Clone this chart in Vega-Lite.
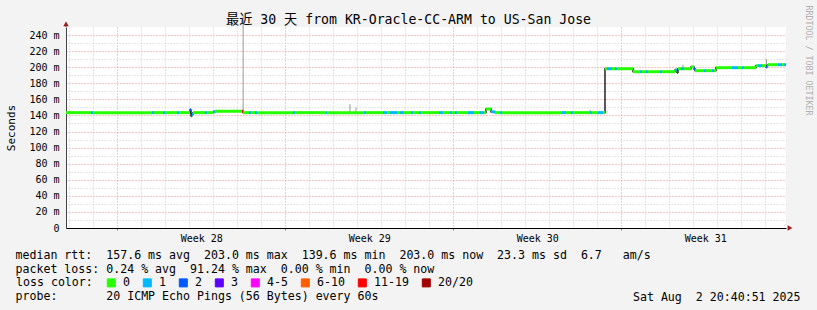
{
  "$schema": "https://vega.github.io/schema/vega-lite/v6.json",
  "width": 720,
  "height": 201,
  "autosize": "none",
  "padding": {"left": 66, "top": 27, "right": 31, "bottom": 82},
  "background": "#f3f3f3",
  "title": {"text": "最近 30 天 from KR-Oracle-CC-ARM to US-San Jose", "font": "DejaVu Sans Mono, Noto Sans CJK SC", "fontSize": 13.2, "fontWeight": "normal", "color": "#000", "anchor": "middle", "dx": -17.5, "offset": -32.5, "baseline": "alphabetic"},
  "datasets": {
    "median": [
      {"t": "2025-07-03T20:40:00Z", "t2": "2025-07-04T21:40:00Z", "v": 143.5, "loss": "0"},
      {"t": "2025-07-04T21:40:00Z", "t2": "2025-07-04T23:40:00Z", "v": 143.5, "loss": "1"},
      {"t": "2025-07-04T23:40:00Z", "t2": "2025-07-07T10:40:00Z", "v": 143.5, "loss": "0"},
      {"t": "2025-07-07T10:40:00Z", "t2": "2025-07-07T12:40:00Z", "v": 143.5, "loss": "1"},
      {"t": "2025-07-07T12:40:00Z", "t2": "2025-07-07T21:40:00Z", "v": 143.5, "loss": "0"},
      {"t": "2025-07-07T21:40:00Z", "t2": "2025-07-07T23:40:00Z", "v": 143.5, "loss": "1"},
      {"t": "2025-07-07T23:40:00Z", "t2": "2025-07-08T11:40:00Z", "v": 143.5, "loss": "0"},
      {"t": "2025-07-08T11:40:00Z", "t2": "2025-07-08T13:40:00Z", "v": 143.5, "loss": "1"},
      {"t": "2025-07-08T13:40:00Z", "t2": "2025-07-09T00:40:00Z", "v": 143.5, "loss": "0"},
      {"t": "2025-07-09T00:40:00Z", "t2": "2025-07-09T01:40:00Z", "v": 147.0, "loss": "2"},
      {"t": "2025-07-09T01:40:00Z", "t2": "2025-07-09T02:40:00Z", "v": 139.6, "loss": "2"},
      {"t": "2025-07-09T02:40:00Z", "t2": "2025-07-09T03:40:00Z", "v": 141.5, "loss": "1"},
      {"t": "2025-07-09T03:40:00Z", "t2": "2025-07-09T15:40:00Z", "v": 143.5, "loss": "0"},
      {"t": "2025-07-09T15:40:00Z", "t2": "2025-07-09T17:40:00Z", "v": 143.5, "loss": "1"},
      {"t": "2025-07-09T17:40:00Z", "t2": "2025-07-09T23:40:00Z", "v": 143.5, "loss": "0"},
      {"t": "2025-07-09T23:40:00Z", "t2": "2025-07-10T01:40:00Z", "v": 144.5, "loss": "1"},
      {"t": "2025-07-10T01:40:00Z", "t2": "2025-07-11T04:40:00Z", "v": 145.2, "loss": "0"},
      {"t": "2025-07-11T04:40:00Z", "t2": "2025-07-11T05:40:00Z", "v": 145.2, "loss": "11-19"},
      {"t": "2025-07-11T05:40:00Z", "t2": "2025-07-11T11:40:00Z", "v": 143.5, "loss": "0"},
      {"t": "2025-07-11T11:40:00Z", "t2": "2025-07-11T13:40:00Z", "v": 143.5, "loss": "1"},
      {"t": "2025-07-11T13:40:00Z", "t2": "2025-07-11T17:40:00Z", "v": 143.5, "loss": "0"},
      {"t": "2025-07-11T17:40:00Z", "t2": "2025-07-11T19:40:00Z", "v": 143.5, "loss": "1"},
      {"t": "2025-07-11T19:40:00Z", "t2": "2025-07-13T07:40:00Z", "v": 143.5, "loss": "0"},
      {"t": "2025-07-13T07:40:00Z", "t2": "2025-07-13T09:40:00Z", "v": 143.5, "loss": "1"},
      {"t": "2025-07-13T09:40:00Z", "t2": "2025-07-14T16:40:00Z", "v": 143.5, "loss": "0"},
      {"t": "2025-07-14T16:40:00Z", "t2": "2025-07-14T17:40:00Z", "v": 143.5, "loss": "1"},
      {"t": "2025-07-14T17:40:00Z", "t2": "2025-07-16T06:40:00Z", "v": 143.5, "loss": "0"},
      {"t": "2025-07-16T06:40:00Z", "t2": "2025-07-16T08:40:00Z", "v": 143.5, "loss": "1"},
      {"t": "2025-07-16T08:40:00Z", "t2": "2025-07-17T01:40:00Z", "v": 143.5, "loss": "0"},
      {"t": "2025-07-17T01:40:00Z", "t2": "2025-07-17T05:40:00Z", "v": 143.5, "loss": "1"},
      {"t": "2025-07-17T05:40:00Z", "t2": "2025-07-17T08:40:00Z", "v": 143.5, "loss": "0"},
      {"t": "2025-07-17T08:40:00Z", "t2": "2025-07-17T15:40:00Z", "v": 143.5, "loss": "1"},
      {"t": "2025-07-17T15:40:00Z", "t2": "2025-07-17T18:40:00Z", "v": 143.5, "loss": "0"},
      {"t": "2025-07-17T18:40:00Z", "t2": "2025-07-17T22:40:00Z", "v": 143.5, "loss": "1"},
      {"t": "2025-07-17T22:40:00Z", "t2": "2025-07-18T05:40:00Z", "v": 143.5, "loss": "0"},
      {"t": "2025-07-18T05:40:00Z", "t2": "2025-07-18T07:40:00Z", "v": 143.5, "loss": "1"},
      {"t": "2025-07-18T07:40:00Z", "t2": "2025-07-18T13:40:00Z", "v": 143.5, "loss": "0"},
      {"t": "2025-07-18T13:40:00Z", "t2": "2025-07-18T15:40:00Z", "v": 143.5, "loss": "1"},
      {"t": "2025-07-18T15:40:00Z", "t2": "2025-07-19T09:40:00Z", "v": 143.5, "loss": "0"},
      {"t": "2025-07-19T09:40:00Z", "t2": "2025-07-19T13:40:00Z", "v": 143.5, "loss": "1"},
      {"t": "2025-07-19T13:40:00Z", "t2": "2025-07-19T20:40:00Z", "v": 143.5, "loss": "0"},
      {"t": "2025-07-19T20:40:00Z", "t2": "2025-07-19T22:40:00Z", "v": 143.5, "loss": "1"},
      {"t": "2025-07-19T22:40:00Z", "t2": "2025-07-20T01:40:00Z", "v": 143.5, "loss": "0"},
      {"t": "2025-07-20T01:40:00Z", "t2": "2025-07-20T03:40:00Z", "v": 143.5, "loss": "1"},
      {"t": "2025-07-20T03:40:00Z", "t2": "2025-07-20T14:40:00Z", "v": 143.5, "loss": "0"},
      {"t": "2025-07-20T14:40:00Z", "t2": "2025-07-20T20:40:00Z", "v": 143.5, "loss": "1"},
      {"t": "2025-07-20T20:40:00Z", "t2": "2025-07-21T02:40:00Z", "v": 143.5, "loss": "0"},
      {"t": "2025-07-21T02:40:00Z", "t2": "2025-07-21T06:40:00Z", "v": 143.5, "loss": "1"},
      {"t": "2025-07-21T06:40:00Z", "t2": "2025-07-21T08:40:00Z", "v": 143.5, "loss": "0"},
      {"t": "2025-07-21T08:40:00Z", "t2": "2025-07-21T13:40:00Z", "v": 148.0, "loss": "0"},
      {"t": "2025-07-21T13:40:00Z", "t2": "2025-07-21T17:40:00Z", "v": 144.5, "loss": "1"},
      {"t": "2025-07-21T17:40:00Z", "t2": "2025-07-21T22:40:00Z", "v": 143.5, "loss": "0"},
      {"t": "2025-07-21T22:40:00Z", "t2": "2025-07-22T00:40:00Z", "v": 143.5, "loss": "1"},
      {"t": "2025-07-22T00:40:00Z", "t2": "2025-07-24T12:40:00Z", "v": 143.5, "loss": "0"},
      {"t": "2025-07-24T12:40:00Z", "t2": "2025-07-24T16:40:00Z", "v": 143.5, "loss": "1"},
      {"t": "2025-07-24T16:40:00Z", "t2": "2025-07-24T21:40:00Z", "v": 143.5, "loss": "0"},
      {"t": "2025-07-24T21:40:00Z", "t2": "2025-07-24T23:40:00Z", "v": 143.5, "loss": "1"},
      {"t": "2025-07-24T23:40:00Z", "t2": "2025-07-25T16:40:00Z", "v": 143.5, "loss": "0"},
      {"t": "2025-07-25T16:40:00Z", "t2": "2025-07-25T18:40:00Z", "v": 143.5, "loss": "1"},
      {"t": "2025-07-25T18:40:00Z", "t2": "2025-07-26T00:40:00Z", "v": 143.5, "loss": "0"},
      {"t": "2025-07-26T00:40:00Z", "t2": "2025-07-26T05:40:00Z", "v": 143.5, "loss": "1"},
      {"t": "2025-07-26T05:40:00Z", "t2": "2025-07-26T07:40:00Z", "v": 143.5, "loss": "0"},
      {"t": "2025-07-26T07:40:00Z", "t2": "2025-07-26T09:40:00Z", "v": 198.1, "loss": "0"},
      {"t": "2025-07-26T09:40:00Z", "t2": "2025-07-26T14:40:00Z", "v": 198.1, "loss": "1"},
      {"t": "2025-07-26T14:40:00Z", "t2": "2025-07-26T17:40:00Z", "v": 198.1, "loss": "0"},
      {"t": "2025-07-26T17:40:00Z", "t2": "2025-07-26T19:40:00Z", "v": 198.1, "loss": "1"},
      {"t": "2025-07-26T19:40:00Z", "t2": "2025-07-27T11:40:00Z", "v": 198.1, "loss": "0"},
      {"t": "2025-07-27T11:40:00Z", "t2": "2025-07-27T18:40:00Z", "v": 194.4, "loss": "0"},
      {"t": "2025-07-27T18:40:00Z", "t2": "2025-07-27T20:40:00Z", "v": 194.4, "loss": "1"},
      {"t": "2025-07-27T20:40:00Z", "t2": "2025-07-28T00:40:00Z", "v": 194.4, "loss": "0"},
      {"t": "2025-07-28T00:40:00Z", "t2": "2025-07-28T02:40:00Z", "v": 194.4, "loss": "1"},
      {"t": "2025-07-28T02:40:00Z", "t2": "2025-07-28T14:40:00Z", "v": 194.4, "loss": "0"},
      {"t": "2025-07-28T14:40:00Z", "t2": "2025-07-28T16:40:00Z", "v": 194.4, "loss": "1"},
      {"t": "2025-07-28T16:40:00Z", "t2": "2025-07-29T05:40:00Z", "v": 194.4, "loss": "0"},
      {"t": "2025-07-29T05:40:00Z", "t2": "2025-07-29T07:40:00Z", "v": 196.5, "loss": "1"},
      {"t": "2025-07-29T07:40:00Z", "t2": "2025-07-29T08:40:00Z", "v": 193.5, "loss": "2"},
      {"t": "2025-07-29T08:40:00Z", "t2": "2025-07-29T11:40:00Z", "v": 198.1, "loss": "0"},
      {"t": "2025-07-29T11:40:00Z", "t2": "2025-07-29T14:40:00Z", "v": 198.1, "loss": "1"},
      {"t": "2025-07-29T14:40:00Z", "t2": "2025-07-29T21:40:00Z", "v": 198.1, "loss": "0"},
      {"t": "2025-07-29T21:40:00Z", "t2": "2025-07-30T00:40:00Z", "v": 200.5, "loss": "0"},
      {"t": "2025-07-30T00:40:00Z", "t2": "2025-07-30T01:40:00Z", "v": 198.1, "loss": "2"},
      {"t": "2025-07-30T01:40:00Z", "t2": "2025-07-30T10:40:00Z", "v": 195.7, "loss": "0"},
      {"t": "2025-07-30T10:40:00Z", "t2": "2025-07-30T12:40:00Z", "v": 195.7, "loss": "1"},
      {"t": "2025-07-30T12:40:00Z", "t2": "2025-07-30T18:40:00Z", "v": 195.7, "loss": "0"},
      {"t": "2025-07-30T18:40:00Z", "t2": "2025-07-30T20:40:00Z", "v": 195.7, "loss": "1"},
      {"t": "2025-07-30T20:40:00Z", "t2": "2025-07-30T22:40:00Z", "v": 195.7, "loss": "0"},
      {"t": "2025-07-30T22:40:00Z", "t2": "2025-07-31T14:40:00Z", "v": 199.4, "loss": "0"},
      {"t": "2025-07-31T14:40:00Z", "t2": "2025-07-31T20:40:00Z", "v": 199.4, "loss": "1"},
      {"t": "2025-07-31T20:40:00Z", "t2": "2025-08-01T00:40:00Z", "v": 199.4, "loss": "0"},
      {"t": "2025-08-01T00:40:00Z", "t2": "2025-08-01T02:40:00Z", "v": 199.4, "loss": "1"},
      {"t": "2025-08-01T02:40:00Z", "t2": "2025-08-01T14:40:00Z", "v": 199.4, "loss": "0"},
      {"t": "2025-08-01T14:40:00Z", "t2": "2025-08-01T16:40:00Z", "v": 201.9, "loss": "0"},
      {"t": "2025-08-01T16:40:00Z", "t2": "2025-08-01T20:40:00Z", "v": 201.9, "loss": "1"},
      {"t": "2025-08-01T20:40:00Z", "t2": "2025-08-02T00:40:00Z", "v": 201.9, "loss": "0"},
      {"t": "2025-08-02T00:40:00Z", "t2": "2025-08-02T01:40:00Z", "v": 200.2, "loss": "2"},
      {"t": "2025-08-02T01:40:00Z", "t2": "2025-08-02T02:40:00Z", "v": 201.9, "loss": "1"},
      {"t": "2025-08-02T02:40:00Z", "t2": "2025-08-02T12:40:00Z", "v": 203.1, "loss": "0"},
      {"t": "2025-08-02T12:40:00Z", "t2": "2025-08-02T16:40:00Z", "v": 203.1, "loss": "1"},
      {"t": "2025-08-02T16:40:00Z", "t2": "2025-08-02T18:40:00Z", "v": 203.1, "loss": "0"},
      {"t": "2025-08-02T18:40:00Z", "t2": "2025-08-02T20:40:00Z", "v": 203.1, "loss": "1"}
    ],
    "smoke": [
      {"t": "2025-07-11T05:50:00Z", "lo": 145.2, "hi": 265},
      {"t": "2025-07-15T16:40:00Z", "lo": 144, "hi": 154},
      {"t": "2025-07-15T22:40:00Z", "lo": 144, "hi": 150},
      {"t": "2025-07-25T16:40:00Z", "lo": 144, "hi": 147},
      {"t": "2025-07-29T13:40:00Z", "lo": 198, "hi": 203},
      {"t": "2025-08-02T01:10:00Z", "lo": 202, "hi": 210}
    ]
  },
  "resolve": {"axis": {"x": "independent", "y": "independent"}},
  "layer": [
    {
      "data": {"name": "smoke"},
      "mark": {"type": "rule", "color": "#999999", "strokeWidth": 1},
      "encoding": {
        "x": {"field": "t", "type": "temporal",
          "scale": {"type": "utc", "nice": false, "domain": [{"year": 2025, "month": 7, "date": 3, "hours": 20, "minutes": 40, "seconds": 51, "utc": true}, {"year": 2025, "month": 8, "date": 2, "hours": 20, "minutes": 40, "seconds": 51, "utc": true}]},
          "axis": {"orient": "bottom", "grid": true, "gridColor": "#cccccc", "ticks": false, "labels": false, "domain": false,
            "values": [
              {"year": 2025, "month": 7, "date": 4, "utc": true}, {"year": 2025, "month": 7, "date": 5, "utc": true},
              {"year": 2025, "month": 7, "date": 7, "utc": true}, {"year": 2025, "month": 7, "date": 8, "utc": true},
              {"year": 2025, "month": 7, "date": 9, "utc": true}, {"year": 2025, "month": 7, "date": 10, "utc": true},
              {"year": 2025, "month": 7, "date": 11, "utc": true}, {"year": 2025, "month": 7, "date": 12, "utc": true},
              {"year": 2025, "month": 7, "date": 14, "utc": true}, {"year": 2025, "month": 7, "date": 15, "utc": true},
              {"year": 2025, "month": 7, "date": 16, "utc": true}, {"year": 2025, "month": 7, "date": 17, "utc": true},
              {"year": 2025, "month": 7, "date": 18, "utc": true}, {"year": 2025, "month": 7, "date": 19, "utc": true},
              {"year": 2025, "month": 7, "date": 21, "utc": true}, {"year": 2025, "month": 7, "date": 22, "utc": true},
              {"year": 2025, "month": 7, "date": 23, "utc": true}, {"year": 2025, "month": 7, "date": 24, "utc": true},
              {"year": 2025, "month": 7, "date": 25, "utc": true}, {"year": 2025, "month": 7, "date": 26, "utc": true},
              {"year": 2025, "month": 7, "date": 28, "utc": true}, {"year": 2025, "month": 7, "date": 29, "utc": true},
              {"year": 2025, "month": 7, "date": 30, "utc": true}, {"year": 2025, "month": 7, "date": 31, "utc": true},
              {"year": 2025, "month": 8, "date": 1, "utc": true}, {"year": 2025, "month": 8, "date": 2, "utc": true}
            ],
            "title": "Sat Aug\u00a0\u00a02 20:40:51 2025", "titleX": 734, "titleY": 72, "titleAlign": "right", "titleAnchor": "end", "titleBaseline": "alphabetic", "titleFontSize": 11.6}
        },
        "y": {"field": "lo", "type": "quantitative",
          "scale": {"domain": [0, 250], "nice": false, "zero": true},
          "axis": {"orient": "right", "grid": true, "gridColor": "#cccccc", "ticks": false, "labels": false, "domain": false,
            "values": [10, 30, 50, 70, 90, 110, 130, 150, 170, 190, 210, 230],
            "title": "RRDTOOL / TOBI OETIKER", "titleAngle": 90, "titleX": 19, "titleY": -22, "titleAlign": "left", "titleBaseline": "alphabetic", "titleFontSize": 8.3, "titleColor": "#b0b0b0"}
        },
        "y2": {"field": "hi"}
      }
    },
    {
      "data": {"name": "median"},
      "mark": {"type": "line", "interpolate": "step-after", "color": "#000000", "strokeWidth": 1.3},
      "encoding": {
        "x": {"field": "t", "type": "temporal",
          "axis": {"orient": "bottom", "grid": true, "gridColor": "#ee9090", "ticks": true, "tickColor": "#e06060", "tickSize": 2, "labels": false, "domain": false, "title": null,
            "values": [
              {"year": 2025, "month": 7, "date": 6, "utc": true}, {"year": 2025, "month": 7, "date": 13, "utc": true},
              {"year": 2025, "month": 7, "date": 20, "utc": true}, {"year": 2025, "month": 7, "date": 27, "utc": true}
            ]}
        },
        "y": {"field": "v", "type": "quantitative",
          "axis": {"orient": "left", "grid": true, "gridColor": "#ee9090", "ticks": false, "labelPadding": 7, "domain": true, "domainColor": "#444444",
            "values": [0, 20, 40, 60, 80, 100, 120, 140, 160, 180, 200, 220, 240],
            "labelExpr": "datum.value == 0 ? '0' : datum.value + ' m'",
            "title": "Seconds", "titleAngle": 270, "titleX": -52, "titleY": 100.5, "titleAlign": "center", "titleBaseline": "alphabetic", "titleFontSize": 11}
        }
      }
    },
    {
      "data": {"name": "median"},
      "mark": {"type": "rule", "strokeWidth": 3, "strokeCap": "butt"},
      "encoding": {
        "x": {"field": "t", "type": "temporal",
          "axis": {"orient": "bottom", "grid": false, "ticks": false, "domain": true, "domainColor": "#000000", "domainWidth": 1,
            "values": [
              {"year": 2025, "month": 7, "date": 9, "hours": 12, "utc": true}, {"year": 2025, "month": 7, "date": 16, "hours": 12, "utc": true},
              {"year": 2025, "month": 7, "date": 23, "hours": 12, "utc": true}, {"year": 2025, "month": 7, "date": 30, "hours": 12, "utc": true}
            ],
            "labelExpr": "'Week ' + utcFormat(datum.value, '%V')",
            "labelPadding": 5, "labelBaseline": "top",
            "title": [
              "median rtt:\u00a0\u00a0157.6 ms avg\u00a0\u00a0203.0 ms max\u00a0\u00a0139.6 ms min\u00a0\u00a0203.0 ms now\u00a0\u00a023.3 ms sd\u00a0\u00a06.7\u00a0\u00a0\u00a0am/s",
              "packet loss: 0.24 % avg\u00a0\u00a091.24 % max\u00a0\u00a00.00 % min\u00a0\u00a00.00 % now"
            ],
            "titleX": -51, "titleY": 30, "titleAlign": "left", "titleAnchor": "start", "titleBaseline": "alphabetic", "titleFontSize": 11.6, "titleLineHeight": 14}
        },
        "x2": {"field": "t2"},
        "y": {"field": "v", "type": "quantitative", "axis": null},
        "color": {"field": "loss", "type": "nominal",
          "scale": {"domain": ["0", "1", "2", "3", "4-5", "6-10", "11-19", "20/20"], "range": ["#26ff00", "#00b8ff", "#0059ff", "#5e00ff", "#ff00ff", "#ff5e00", "#ff0000", "#a10000"]},
          "legend": {"orient": "none", "legendX": -50, "legendY": 250, "direction": "horizontal",
            "title": "loss color:", "titleOrient": "left", "titleFont": "DejaVu Sans Mono", "titleFontSize": 11.6, "titleFontWeight": "normal", "titleColor": "#000000", "titlePadding": 12.5,
            "labelFont": "DejaVu Sans Mono", "labelFontSize": 11.6, "labelColor": "#000000", "labelOffset": 6,
            "symbolType": "square", "symbolSize": 64, "symbolStrokeColor": "#000000", "symbolStrokeWidth": 1, "columnPadding": 10,
            "encode": {"symbols": {"update": {"fill": {"scale": "color", "field": "value"}, "fillOpacity": {"value": 1}, "opacity": {"value": 1}}}}}
        }
      }
    },
    {
      "data": {"values": [{"t": "2025-07-03T20:40:51Z", "v": 250, "v2": 254}]},
      "mark": {"type": "rule", "color": "#444444", "strokeWidth": 1},
      "encoding": {
        "x": {"field": "t", "type": "temporal",
          "axis": {"orient": "bottom", "grid": false, "ticks": false, "labels": false, "domain": false,
            "title": "probe:\u00a0\u00a0\u00a0\u00a0\u00a0\u00a0\u00a020 ICMP Echo Pings (56 Bytes) every 60s",
            "titleX": -51, "titleY": 71.5, "titleAlign": "left", "titleAnchor": "start", "titleBaseline": "alphabetic", "titleFontSize": 11.6}},
        "y": {"field": "v", "type": "quantitative", "axis": null},
        "y2": {"field": "v2"}
      }
    },
    {
      "data": {"values": [{"t": "2025-07-03T20:40:51Z", "v": 254}]},
      "mark": {"type": "point", "shape": "triangle-up", "filled": true, "color": "#9b1b1b", "size": 30, "opacity": 1},
      "encoding": {
        "x": {"field": "t", "type": "temporal", "axis": null},
        "y": {"field": "v", "type": "quantitative", "axis": null}
      }
    },
    {
      "data": {"values": [{"t": "2025-08-03T00:40:51Z", "v": 0}]},
      "mark": {"type": "point", "shape": "triangle-right", "filled": true, "color": "#9b1b1b", "size": 30, "opacity": 1},
      "encoding": {
        "x": {"field": "t", "type": "temporal", "axis": null},
        "y": {"field": "v", "type": "quantitative", "axis": null}
      }
    }
  ],
  "config": {
    "font": "DejaVu Sans Mono",
    "view": {"stroke": null, "fill": "#ffffff"},
    "axis": {"labelFont": "DejaVu Sans Mono", "labelFontSize": 10, "labelColor": "#000000", "titleFont": "DejaVu Sans Mono", "titleFontWeight": "normal", "titleColor": "#000000", "gridDash": [1, 2], "gridWidth": 1, "gridOpacity": 1}
  }
}
